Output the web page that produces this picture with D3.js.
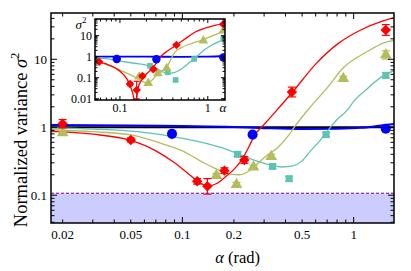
<!DOCTYPE html>
<html>
<head>
<meta charset="utf-8">
<script src="https://cdn.jsdelivr.net/npm/d3@7"></script>
<style>
  body { margin: 0; background: #fff; }
  text { font-family: "Liberation Serif", "DejaVu Serif", serif; }
</style>
</head>
<body>
<div id="chart"></div>
<script>
// ---- main panel data ----
var redX = [0.02, 0.05, 0.122, 0.14, 0.176, 0.23, 0.436, 1.54];
var redY = [1.13, 0.65, 0.16, 0.135, 0.23, 0.33, 3.3, 27];
var redErr = [1.15, 1.07, 1.1, 1.3, 1.1, 1.12, 1.18, 1.2];

var oliveX = [0.02, 0.158, 0.207, 0.26, 0.33, 0.87, 1.54];
var oliveY = [0.83, 0.195, 0.143, 0.26, 0.37, 5.2, 11.6];
var oliveErr = [1.06, 1.07, 1.08, 1.07, 1.08, 1.08, 1.15];

var tealX = [0.21, 0.336, 0.42, 0.69, 1.54];
var tealY = [0.4, 0.265, 0.175, 0.78, 5.8];
var tealErr = [1.08, 1.08, 1.08, 1.07, 1.1];

var blueX = [0.087, 0.257, 1.54];
var blueY = [0.8, 0.78, 0.95];

// theory curves (main)
var redCurveX = [0.017, 0.03, 0.05, 0.07, 0.09, 0.11, 0.125, 0.14, 0.16, 0.18, 0.2, 0.22, 0.245, 0.265, 0.29, 0.35, 0.44, 0.6, 0.81, 1.1, 1.5, 1.72];
var redCurveY = [0.87, 0.79, 0.64, 0.45, 0.3, 0.2, 0.155, 0.137, 0.15, 0.19, 0.24, 0.32, 0.52, 0.78, 1.0, 1.7, 3.3, 8.5, 17, 27, 37, 41];
var oliveCurveX = [0.017, 0.03, 0.05, 0.08, 0.1, 0.13, 0.16, 0.19, 0.215, 0.24, 0.27, 0.31, 0.36, 0.42, 0.45, 0.55, 0.7, 0.87, 1.2, 1.5, 1.72];
var oliveCurveY = [0.92, 0.86, 0.77, 0.55, 0.45, 0.31, 0.24, 0.205, 0.2, 0.22, 0.28, 0.38, 0.5, 0.78, 1.0, 1.9, 3.8, 7.5, 13, 17.5, 19];
var tealCurveX = [0.017, 0.03, 0.055, 0.087, 0.13, 0.17, 0.21, 0.27, 0.33, 0.38, 0.44, 0.5, 0.56, 0.63, 0.69, 0.8, 0.92, 1.0, 1.2, 1.5, 1.72];
var tealCurveY = [0.98, 0.94, 0.86, 0.73, 0.6, 0.5, 0.41, 0.32, 0.275, 0.26, 0.27, 0.32, 0.45, 0.62, 0.83, 1.3, 1.8, 2.4, 3.7, 5.8, 6.8];
var blueCurveX = [0.017, 0.05, 0.1, 0.2, 0.3, 0.5, 0.8, 1.1, 1.4, 1.72];
var blueCurveY = [1.08, 1.06, 1.04, 1.01, 0.97, 0.94, 0.95, 0.98, 1.05, 1.12];

var threshold = 0.107;

// ---- inset data ----
var inRedX = [0.058, 0.13, 0.155, 0.18, 0.24, 0.44, 1.5];
var inRedY = [0.58, 0.05, 0.026, 0.12, 0.25, 3.6, 35];
var inRedErr = [1.1, 1.2, 2.6, 1.2, 1.15, 1.12, 1.1];
var inOliveX = [0.165, 0.21, 0.27, 0.34, 0.89, 1.5];
var inOliveY = [0.11, 0.055, 0.16, 0.28, 5.8, 17];
var inTealX = [0.22, 0.35, 0.43, 0.7, 1.5];
var inTealY = [0.37, 0.18, 0.078, 0.78, 7];
var inBlueX = [0.092, 0.26, 1.5];
var inBlueY = [0.78, 0.75, 0.93];

var inRedCurveX = [0.05, 0.07, 0.09, 0.11, 0.125, 0.14, 0.15, 0.16, 0.18, 0.21, 0.25, 0.29, 0.35, 0.44, 0.6, 0.72, 1.0, 1.6];
var inRedCurveY = [0.64, 0.45, 0.28, 0.14, 0.065, 0.018, 0.005, 0.03, 0.09, 0.18, 0.4, 1.0, 1.9, 3.6, 9, 15, 25, 40];
var inOliveCurveX = [0.05, 0.07, 0.1, 0.13, 0.165, 0.19, 0.21, 0.24, 0.27, 0.3, 0.34, 0.38, 0.42, 0.5, 0.65, 0.89, 1.2, 1.6];
var inOliveCurveY = [0.63, 0.42, 0.23, 0.14, 0.085, 0.06, 0.055, 0.09, 0.15, 0.2, 0.3, 0.75, 1.6, 2.7, 4.2, 6.5, 11, 18];
var inTealCurveX = [0.05, 0.07, 0.1, 0.14, 0.2, 0.25, 0.3, 0.35, 0.4, 0.47, 0.55, 0.65, 0.75, 0.9, 1.1, 1.6];
var inTealCurveY = [0.93, 0.8, 0.62, 0.5, 0.4, 0.3, 0.2, 0.16, 0.17, 0.22, 0.35, 0.62, 1.0, 2.0, 3.5, 7];
var inBlueCurveX = [0.05, 0.2, 0.5, 1.0, 1.6];
var inBlueCurveY = [1.0, 1.0, 0.98, 1.0, 1.08];

var xMajor = [0.02, 0.05, 0.1, 0.2, 0.5, 1];
var yMajor = [0.1, 1, 10];
var inXMajor = [0.1, 1];
var inYMajor = [0.01, 0.1, 1, 10];

var cRed = "#ff0000", cOlive = "#b4bd5c", cTeal = "#5ec4b2", cBlue = "#0000ff";

// set the dimensions and margins of the graph
var W = 411, H = 271;
var margin = {top: 13, right: 17, bottom: 48, left: 51},
    width = W - margin.left - margin.right,
    height = H - margin.top - margin.bottom;

var svg0 = d3.select("#chart").append("svg")
    .attr("width", W).attr("height", H);
var svg = svg0.append("g")
    .attr("transform", "translate(" + margin.left + "," + margin.top + ")");

var x = d3.scaleLog().domain([0.0171, 1.72]).range([0, width]);
var y = d3.scaleLog().domain([0.039, 48]).range([height, 0]);

function zip(a, b) { return a.map(function(v, i) { return [v, b[i]]; }); }
function minors(lo, hi) {
  var out = [];
  for (var e = -3; e <= 2; e++) {
    for (var m = 2; m <= 9; m++) {
      var v = m * Math.pow(10, e);
      if (v >= lo && v <= hi) out.push(v);
    }
  }
  return out;
}

svg0.append("defs").append("clipPath").attr("id", "clipMain")
  .append("rect").attr("width", width).attr("height", height);
svg0.select("defs").append("clipPath").attr("id", "clipIn")
  .append("rect").attr("width", 130).attr("height", 81);

// shaded region below threshold
svg.append("rect")
  .attr("x", 0).attr("y", y(threshold))
  .attr("width", width).attr("height", height - y(threshold))
  .attr("fill", "#ccccff");
svg.append("line")
  .attr("x1", 0).attr("x2", width)
  .attr("y1", y(threshold)).attr("y2", y(threshold))
  .attr("stroke", "#800080").attr("stroke-width", 1)
  .attr("stroke-dasharray", "3,2");

function drawPanel(g, xs, ys, sets, clipId, sz) {
  var line = d3.line()
    .x(function(d) { return xs(d[0]); })
    .y(function(d) { return ys(d[1]); })
    .curve(d3.curveMonotoneX);
  var layer = g.append("g").attr("clip-path", "url(#" + clipId + ")");
  sets.curves.forEach(function(c) {
    layer.append("path")
      .datum(zip(c.x, c.y))
      .attr("d", line)
      .attr("fill", "none")
      .attr("stroke", c.color)
      .attr("stroke-width", c.w || 1.3);
  });
  sets.points.forEach(function(s) {
    var data = s.x.map(function(v, i) { return {x: v, y: s.y[i], e: s.err ? s.err[i] : 1}; });
    var eb = layer.selectAll(null).data(data.filter(function(d) { return d.e > 1.001; })).enter().append("g");
    eb.append("line")
      .attr("x1", function(d) { return xs(d.x); })
      .attr("x2", function(d) { return xs(d.x); })
      .attr("y1", function(d) { return ys(d.y / d.e); })
      .attr("y2", function(d) { return ys(d.y * d.e); })
      .attr("stroke", s.color).attr("stroke-width", 1.2);
    [true, false].forEach(function(top) {
      eb.append("line")
        .attr("x1", function(d) { return xs(d.x) - sz.cap; })
        .attr("x2", function(d) { return xs(d.x) + sz.cap; })
        .attr("y1", function(d) { return ys(top ? d.y * d.e : d.y / d.e); })
        .attr("y2", function(d) { return ys(top ? d.y * d.e : d.y / d.e); })
        .attr("stroke", s.color).attr("stroke-width", 1.2);
    });
    layer.selectAll(null).data(data).enter().append("path")
      .attr("d", d3.symbol().type(s.type).size(s.size))
      .attr("transform", function(d) {
        return "translate(" + xs(d.x) + "," + ys(d.y) + ")" + (s.rot ? " rotate(45)" : "");
      })
      .attr("fill", s.color);
  });
}

// black reference line
svg.append("line")
  .attr("x1", 0).attr("x2", width).attr("y1", y(1)).attr("y2", y(1))
  .attr("stroke", "#000").attr("stroke-width", 1.8);

drawPanel(svg, x, y, {
  curves: [
    {x: blueCurveX, y: blueCurveY, color: cBlue, w: 2},
    {x: tealCurveX, y: tealCurveY, color: cTeal},
    {x: oliveCurveX, y: oliveCurveY, color: cOlive},
    {x: redCurveX, y: redCurveY, color: cRed}
  ],
  points: [
    {x: blueX, y: blueY, color: cBlue, type: d3.symbolCircle, size: 80},
    {x: tealX, y: tealY, err: tealErr, color: cTeal, type: d3.symbolSquare, size: 50},
    {x: oliveX, y: oliveY, err: oliveErr, color: cOlive, type: d3.symbolTriangle, size: 60},
    {x: redX, y: redY, err: redErr, color: cRed, type: d3.symbolSquare, size: 55, rot: true}
  ]
}, "clipMain", {cap: 4});

// axes with inward ticks on all four sides
function axes(g, xs, ys, w, h, xMaj, yMaj, xLong, yLong, fs, ticks, labelX, labelY) {
  var xMin = minors(xs.domain()[0], xs.domain()[1]).filter(function(v) { return xMaj.indexOf(v) < 0; });
  var yMin = minors(ys.domain()[0], ys.domain()[1]).filter(function(v) { return yMaj.indexOf(v) < 0; });
  var fmt = function(d) { return d3.format("~g")(d); };
  function tickLen(v, longs) { return longs.indexOf(v) >= 0 ? ticks[0] : ticks[1]; }
  var tg = g.append("g").attr("stroke", "#000").attr("stroke-width", 1);
  xMaj.concat(xMin).forEach(function(v) {
    var L = tickLen(v, xLong);
    tg.append("line").attr("x1", xs(v)).attr("x2", xs(v)).attr("y1", h).attr("y2", h - L);
    tg.append("line").attr("x1", xs(v)).attr("x2", xs(v)).attr("y1", 0).attr("y2", L);
  });
  yMaj.concat(yMin).forEach(function(v) {
    var L = tickLen(v, yLong);
    tg.append("line").attr("y1", ys(v)).attr("y2", ys(v)).attr("x1", 0).attr("x2", L);
    tg.append("line").attr("y1", ys(v)).attr("y2", ys(v)).attr("x1", w).attr("x2", w - L);
  });
  g.selectAll(null).data(xMaj).enter().append("text")
    .attr("x", function(d) { return xs(d); })
    .attr("y", h + labelX)
    .attr("text-anchor", "middle")
    .attr("font-size", fs)
    .text(fmt);
  g.selectAll(null).data(yMaj).enter().append("text")
    .attr("x", -labelY)
    .attr("y", function(d) { return ys(d); })
    .attr("dy", "0.35em")
    .attr("text-anchor", "end")
    .attr("font-size", fs)
    .text(fmt);
  g.append("rect").attr("width", w).attr("height", h)
    .attr("fill", "none").attr("stroke", "#000").attr("stroke-width", 1.5);
}

axes(svg, x, y, width, height, xMajor, yMajor, [0.1, 1], [0.1, 1, 10], 13, [6, 3.5], 16, 4);

// axis titles
var xt = svg.append("text")
  .attr("x", x(0.21)).attr("y", height + 40)
  .attr("text-anchor", "middle").attr("font-size", 16.5);
xt.append("tspan").attr("font-style", "italic").text("α");
xt.append("tspan").text(" (rad)");

var yt = svg.append("text")
  .attr("transform", "translate(-24," + (height / 2 + 22) + ") rotate(-90)")
  .attr("text-anchor", "middle").attr("font-size", 18.5);
yt.append("tspan").text("Normalized variance ");
yt.append("tspan").attr("font-style", "italic").text("σ");
yt.append("tspan").attr("font-size", 12).attr("dy", -8).text("2");

// ---- inset ----
var inset = svg0.append("g").attr("transform", "translate(95,19)");
var iw = 130, ih = 81;
inset.append("rect").attr("width", iw).attr("height", ih).attr("fill", "#fff");
var xi = d3.scaleLog().domain([0.052, 1.57]).range([0, iw]);
var yi = d3.scaleLog().domain([0.0087, 62]).range([ih, 0]);

drawPanel(inset, xi, yi, {
  curves: [
    {x: inBlueCurveX, y: inBlueCurveY, color: cBlue, w: 1.8},
    {x: inTealCurveX, y: inTealCurveY, color: cTeal},
    {x: inOliveCurveX, y: inOliveCurveY, color: cOlive},
    {x: inRedCurveX, y: inRedCurveY, color: cRed}
  ],
  points: [
    {x: inBlueX, y: inBlueY, color: cBlue, type: d3.symbolCircle, size: 55},
    {x: inTealX, y: inTealY, color: cTeal, type: d3.symbolSquare, size: 32},
    {x: inOliveX, y: inOliveY, color: cOlive, type: d3.symbolTriangle, size: 40},
    {x: inRedX, y: inRedY, err: inRedErr, color: cRed, type: d3.symbolSquare, size: 36, rot: true}
  ]
}, "clipIn", {cap: 3});

axes(inset, xi, yi, iw, ih, inXMajor, inYMajor, [0.1, 1], [0.01, 0.1, 1, 10], 12, [4, 2.5], 12, 3);

var sl = inset.append("text").attr("x", -14).attr("y", 10)
  .attr("text-anchor", "middle").attr("font-size", 13);
sl.append("tspan").attr("font-style", "italic").text("σ");
sl.append("tspan").attr("font-size", 9).attr("dy", -6).text("2");
inset.append("text").attr("x", 128).attr("y", ih + 12)
  .attr("text-anchor", "middle").attr("font-size", 13)
  .attr("font-style", "italic").text("α");
</script>
</body>
</html>
